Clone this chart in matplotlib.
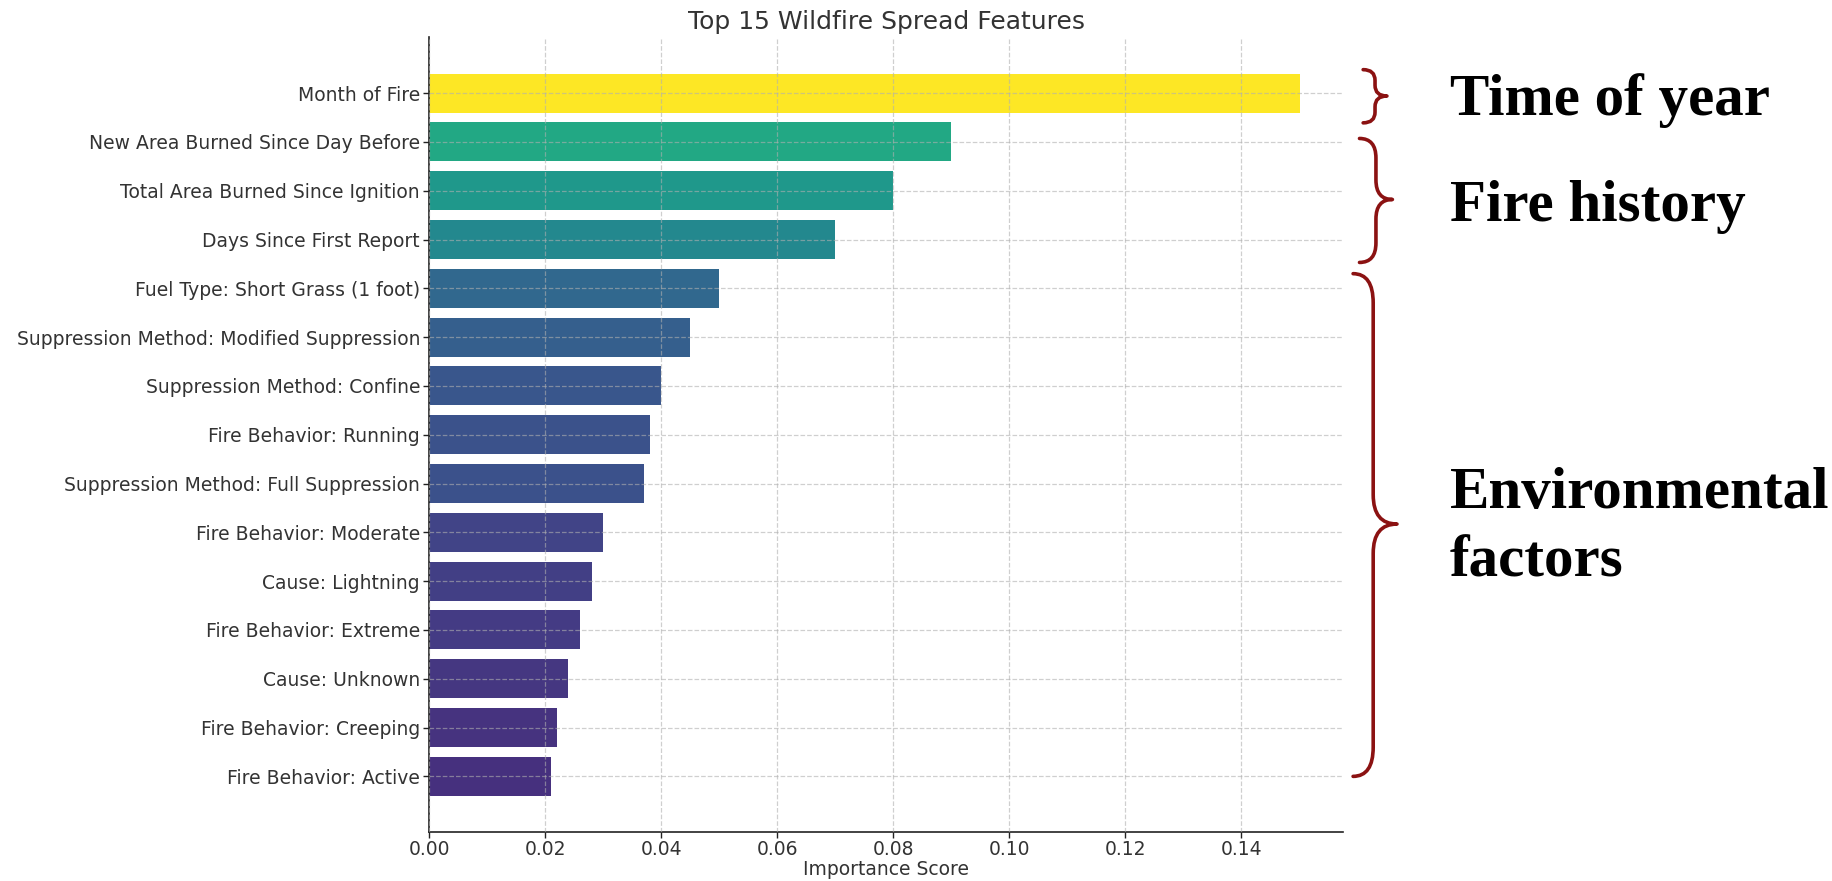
import numpy as np
import matplotlib
matplotlib.use("Agg")
import matplotlib.pyplot as plt
from matplotlib.path import Path
from matplotlib.patches import PathPatch
import matplotlib.transforms as mtransforms

# feature importances, top to bottom
features = [
    "Month of Fire",
    "New Area Burned Since Day Before",
    "Total Area Burned Since Ignition",
    "Days Since First Report",
    "Fuel Type: Short Grass (1 foot)",
    "Suppression Method: Modified Suppression",
    "Suppression Method: Confine",
    "Fire Behavior: Running",
    "Suppression Method: Full Suppression",
    "Fire Behavior: Moderate",
    "Cause: Lightning",
    "Fire Behavior: Extreme",
    "Cause: Unknown",
    "Fire Behavior: Creeping",
    "Fire Behavior: Active",
]
importance = [0.150, 0.090, 0.080, 0.070, 0.050, 0.045, 0.040, 0.038,
              0.037, 0.030, 0.028, 0.026, 0.024, 0.022, 0.021]

# groups shown on the right: text lines, first row, last row, tip row
group_lines = [["Time of year"], ["Fire history"], ["Environmental", "factors"]]
group_rows = [(-0.48, 0.61, 0.06), (0.93, 3.47, 2.18), (3.70, 14.0, 8.83)]
# baseline rows for each text line
group_baselines = [[0.44], [2.63], [8.50, 9.91]]

fig = plt.figure(figsize=(18.32, 8.81), dpi=100)
ax = fig.add_axes([0.2342, 0.0556, 0.7331 - 0.2342, 0.9575 - 0.0556])

vals = np.array(importance)
colors = plt.cm.viridis(vals / vals.max())
ypos = np.arange(len(features))
ax.barh(ypos, vals, height=0.8, color=colors, zorder=2)
ax.set_yticks(ypos)
ax.set_yticklabels(features, fontsize=13.5, color="#333333")
ax.invert_yaxis()

ticks = np.arange(0, 0.15, 0.02)
ax.set_xticks(ticks)
ax.set_xticklabels([f"{t:.2f}" for t in ticks], fontsize=13.5, color="#333333")
ax.set_xlabel("Importance Score", fontsize=13.5, color="#333333", labelpad=1)
ax.set_title("Top 15 Wildfire Spread Features", fontsize=18, color="#333333", pad=6)

ax.grid(True, linestyle="--", color="#b0b0b0", alpha=0.6, linewidth=0.9, zorder=3)
ax.set_axisbelow(False)
for s in ["top", "right"]:
    ax.spines[s].set_visible(False)
for s in ["left", "bottom"]:
    ax.spines[s].set_linewidth(1.2)
    ax.spines[s].set_color("#222222")
ax.tick_params(length=4, width=1, color="#222222")
ax.tick_params(axis="x", pad=1.5)
ax.tick_params(axis="y", pad=2.5)

# curly braces: x in axes fraction, y in data rows
trans = mtransforms.blended_transform_factory(ax.transAxes, ax.transData)


def brace(y0, y1, ym, x0, xs, xt, r):
    verts = [
        (x0, y0), (xs, y0), (xs, y0 + r),
        (xs, ym - r),
        (xs, ym), (xt, ym),
        (xs, ym), (xs, ym + r),
        (xs, y1 - r),
        (xs, y1), (x0, y1),
    ]
    codes = [Path.MOVETO, Path.CURVE3, Path.CURVE3,
             Path.LINETO,
             Path.CURVE3, Path.CURVE3,
             Path.CURVE3, Path.CURVE3,
             Path.LINETO,
             Path.CURVE3, Path.CURVE3]
    p = PathPatch(Path(verts, codes), transform=trans, fill=False,
                  edgecolor="#8b1212", linewidth=2.6, clip_on=False,
                  capstyle="round", joinstyle="round")
    ax.add_patch(p)


brace(*group_rows[0], 1.022, 1.035, 1.048, 0.22)
brace(*group_rows[1], 1.018, 1.036, 1.054, 0.4)
brace(*group_rows[2], 1.011, 1.033, 1.059, 0.6)

for lines, bases in zip(group_lines, group_baselines):
    for line, b in zip(lines, bases):
        ax.text(1.117, b, line, transform=trans, ha="left", va="baseline",
                fontsize=42.5, fontweight="bold", family="Liberation Serif",
                color="black")

fig.savefig("out.png", dpi=100)
